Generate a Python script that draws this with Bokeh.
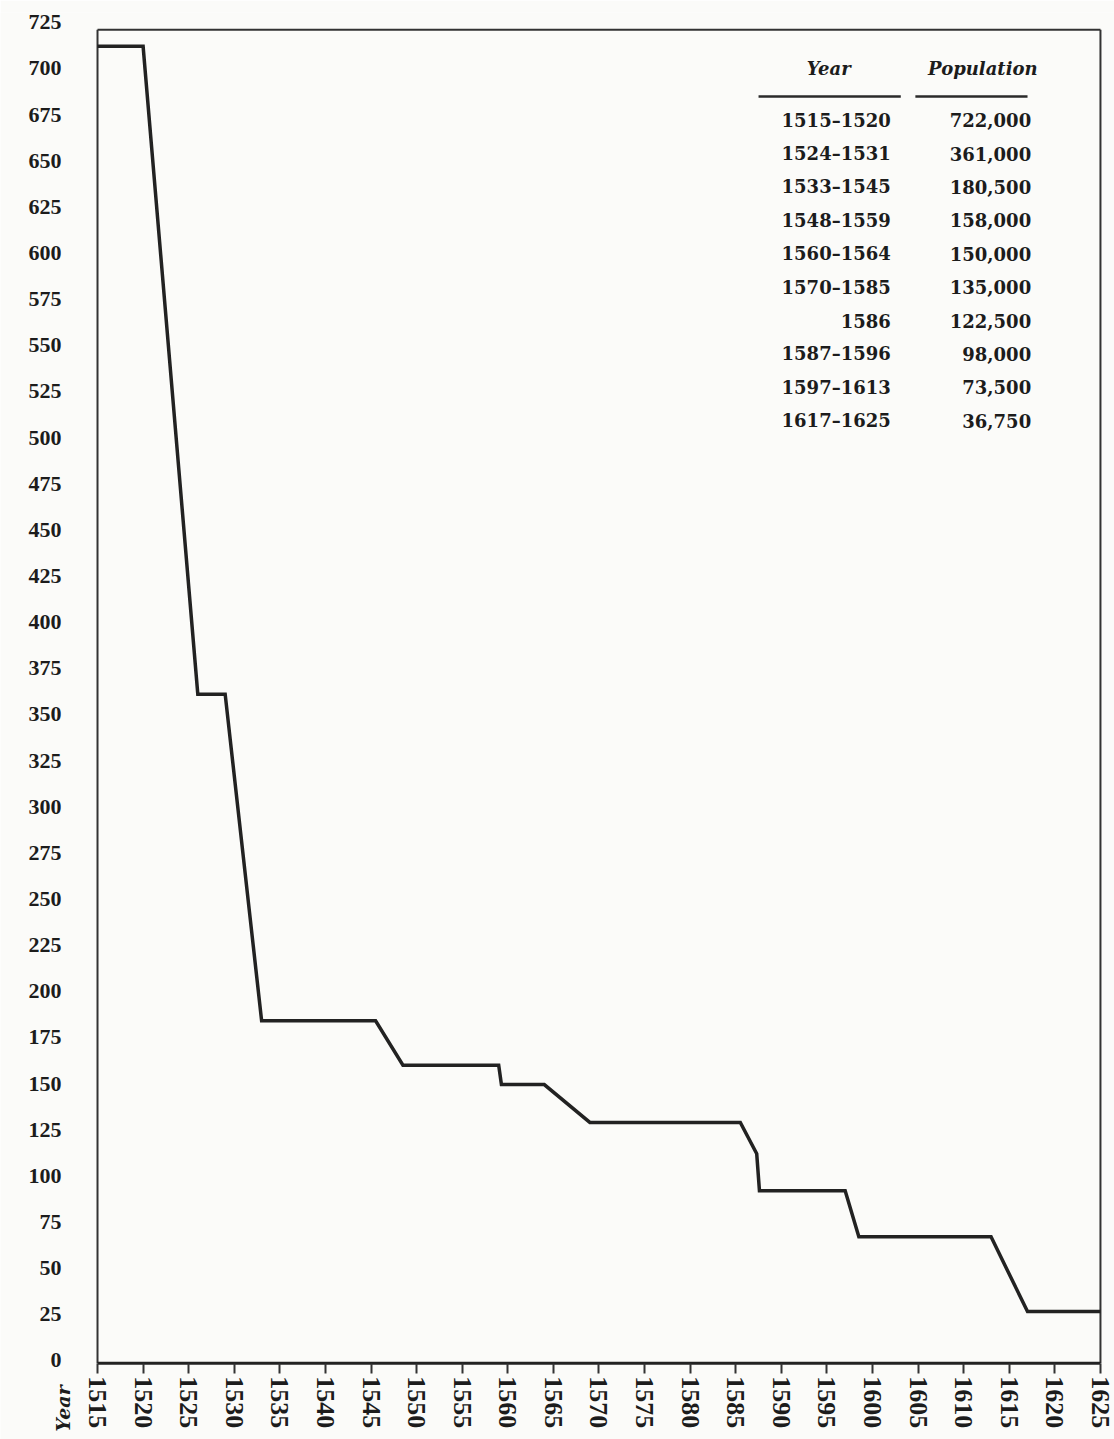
from bokeh.plotting import figure
from bokeh.models import Range1d, FixedTicker, ColumnDataSource
from bokeh.core.properties import value
from bokeh.embed import file_html
from bokeh.resources import INLINE
import math

# ---- data (population in thousands) ----
line_years = [1515, 1520, 1526, 1529, 1533, 1545.5, 1548.5, 1559, 1559.3, 1564,
              1569, 1585.5, 1587.3, 1587.6, 1597, 1598.5, 1613, 1617, 1625]
line_pop = [712, 712, 361, 361, 184, 184, 160, 160, 149.5, 149.5,
            129, 129, 112, 92, 92, 67, 67, 26.5, 26.5]

y_ticks = list(range(0, 726, 25))
x_ticks = list(range(1515, 1626, 5))

table_years = ["1515\u20131520", "1524\u20131531", "1533\u20131545", "1548\u20131559",
               "1560\u20131564", "1570\u20131585", "1586", "1587\u20131596",
               "1597\u20131613", "1617\u20131625"]
table_pops = ["722,000", "361,000", "180,500", "158,000", "150,000", "135,000",
              "122,500", "98,000", "73,500", "36,750"]
header_year = "Year"
header_pop = "Population"

BG = "#fbfbf9"
INK = "#1c1c1c"

x0, x1 = 1515, 1625
y_base = -1.5
y_top_border = 721

p = figure(width=1114, height=1439, output_backend="svg", toolbar_location=None,
           x_range=Range1d(1504.36, 1626.54), y_range=Range1d(-42.8, 730.3),
           min_border_left=0, min_border_right=0, min_border_top=12,
           min_border_bottom=0)
p.background_fill_color = BG
p.border_fill_color = BG
p.outline_line_color = None
p.xgrid.grid_line_color = None
p.ygrid.grid_line_color = None

# y axis, pinned at the left border
ya = p.yaxis[0]
ya.fixed_location = x0
ya.ticker = FixedTicker(ticks=y_ticks)
ya.major_tick_line_color = None
ya.minor_tick_line_color = None
ya.axis_line_color = None
ya.major_label_standoff = 30
ya.major_label_text_font = "Liberation Serif"
ya.major_label_text_font_style = "bold"
ya.major_label_text_font_size = "22px"
ya.major_label_text_color = INK

# x axis, pinned at the baseline
xa = p.xaxis[0]
xa.fixed_location = y_base
xa.ticker = FixedTicker(ticks=x_ticks)
xa.minor_tick_line_color = None
xa.major_tick_in = 0
xa.major_tick_out = 10
xa.major_tick_line_width = 2
xa.major_tick_line_color = "#333333"
xa.axis_line_color = None
xa.major_label_orientation = "vertical"
xa.major_label_standoff = 3
xa.major_label_text_font = "Liberation Serif"
xa.major_label_text_font_style = "bold"
xa.major_label_text_font_size = "26px"
xa.major_label_text_color = INK

# frame borders: left, top, right, bottom
p.segment(x0=[x0, x0, x1], y0=[y_base, y_top_border, y_base],
          x1=[x0, x1, x1], y1=[y_top_border, y_top_border, y_top_border],
          line_color="#333333", line_width=2)
p.segment(x0=[x0], y0=[y_base], x1=[x1], y1=[y_base], line_color="#222222", line_width=3)

# population line
p.line(line_years, line_pop, line_color="#222222", line_width=3.5, line_join="miter")

# table
row_top = 672
row_step = 18.1
rows_y = [row_top - i * row_step for i in range(len(table_years))]
src = ColumnDataSource(dict(ty=table_years, tp=table_pops,
                            xy=[1602.0] * len(rows_y), xp=[1617.4] * len(rows_y),
                            y=rows_y))
p.text(x="xy", y="y", text="ty", source=src, text_align="right", text_baseline="middle",
       text_font=value("DejaVu Serif"), text_font_style="bold",
       text_font_size="18px", text_color=INK)
p.text(x="xp", y="y", text="tp", source=src, text_align="right", text_baseline="middle",
       text_font=value("DejaVu Serif"), text_font_style="bold",
       text_font_size="18px", text_color=INK)
p.text(x=[1595.2, 1612.1], y=[700, 700], text=[header_year, header_pop],
       text_align="center", text_baseline="middle",
       text_font=value("DejaVu Serif"), text_font_style="bold italic",
       text_font_size="18px", text_color=INK)
p.segment(x0=[1587.5, 1604.7], y0=[684.8, 684.8], x1=[1603.1, 1617.0], y1=[684.8, 684.8],
          line_color="#2a2a2a", line_width=2.5)

# "Year" caption beside the x tick labels
p.text(x=[1511.16], y=[-26], text=[header_year], angle=math.pi / 2,
       text_align="center", text_baseline="middle",
       text_font=value("DejaVu Serif"), text_font_style="bold italic",
       text_font_size="19px", text_color=INK)

open("out.html", "w").write(file_html(p, INLINE))
